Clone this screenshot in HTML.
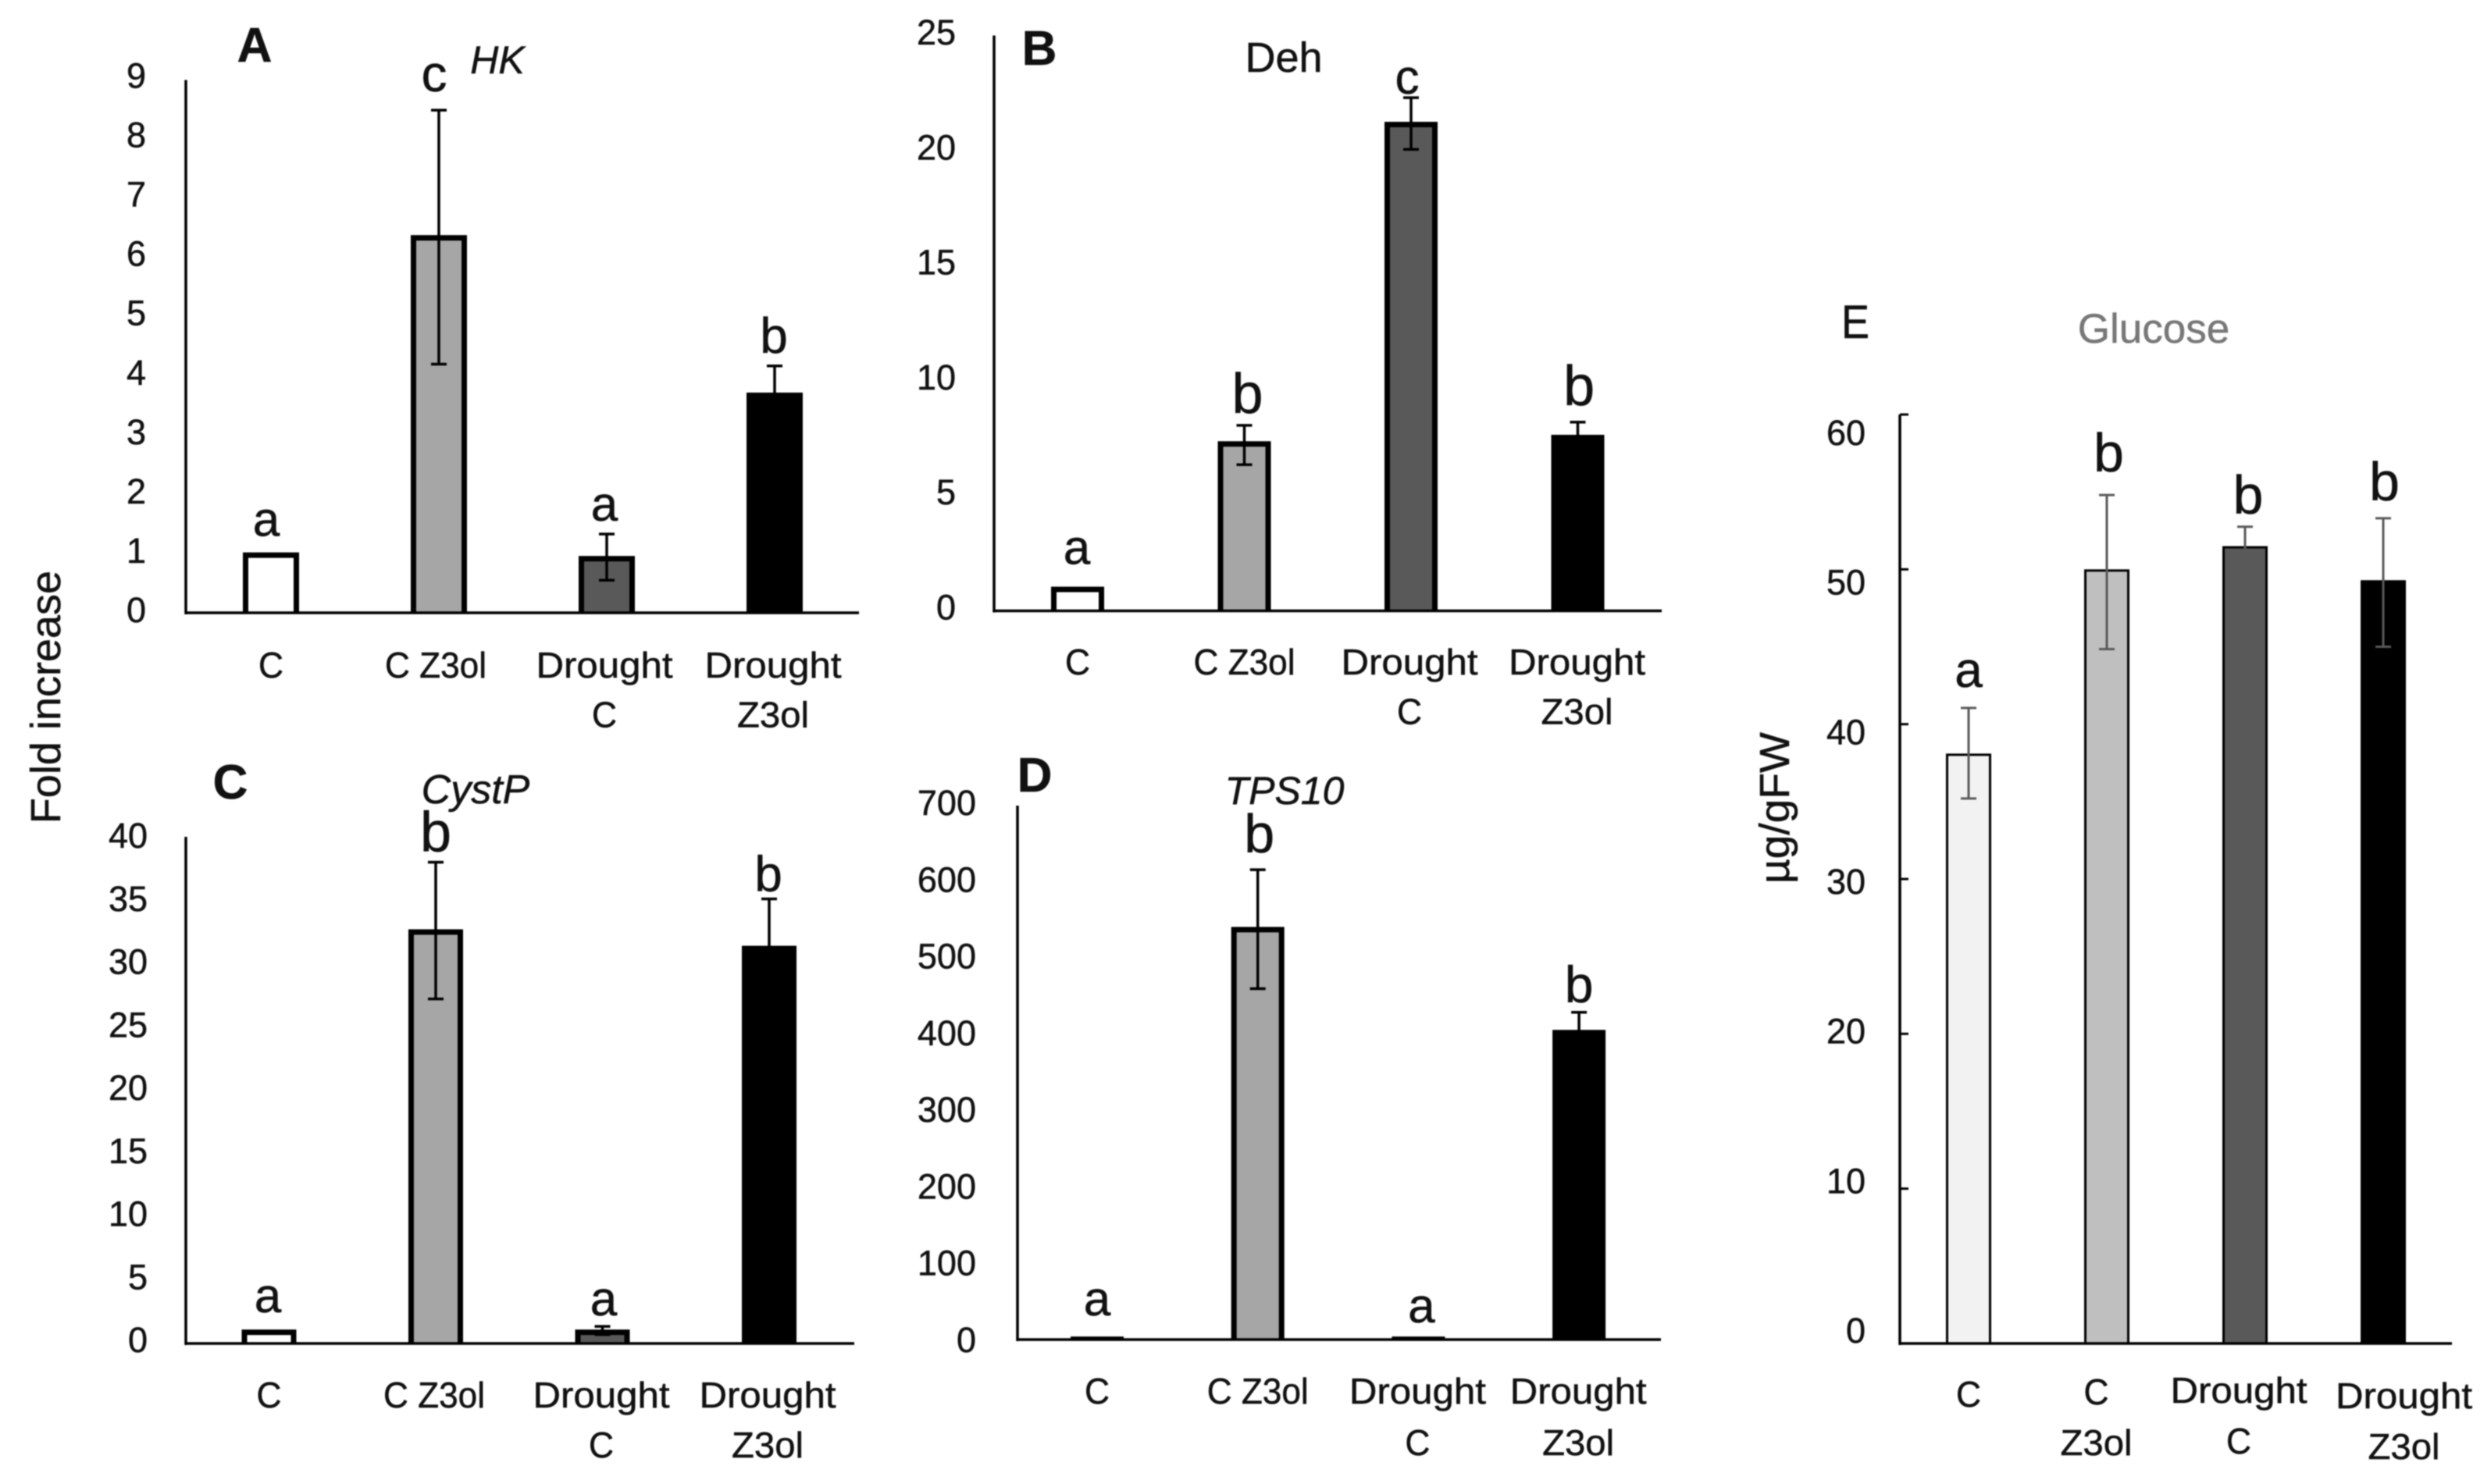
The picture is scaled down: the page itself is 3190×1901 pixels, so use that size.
<!DOCTYPE html>
<html lang="en">
<head>
<meta charset="utf-8">
<title>Fold increase and glucose bar charts</title>
<style>
  html, body { margin: 0; padding: 0; background: #fff; }
  svg { display: block; filter: blur(0.7px); }
  text { font-family: "Liberation Sans", sans-serif; fill: #111; stroke: #111; stroke-width: 0.5px; }
</style>
</head>
<body>
<svg id="figure" xmlns="http://www.w3.org/2000/svg" width="3190" height="1901" viewBox="0 0 3190 1901">
  <rect x="0" y="0" width="3190" height="1901" fill="#fff"/>

  <text x="77" y="893" font-size="54" text-anchor="middle" transform="rotate(-90 77 893)">Fold increase</text>
  <text x="2291" y="1035" font-size="54" text-anchor="middle" textLength="194" lengthAdjust="spacingAndGlyphs" transform="rotate(-90 2291 1035)">µg/gFW</text>

  <text x="326" y="79" font-size="62" font-weight="bold" text-anchor="middle">A</text>
  <text x="1331" y="83" font-size="62" font-weight="bold" text-anchor="middle">B</text>
  <text x="295" y="1023" font-size="62" font-weight="bold" text-anchor="middle">C</text>
  <text x="1325" y="1014" font-size="62" font-weight="bold" text-anchor="middle">D</text>
  <text x="2376" y="433" font-size="60" text-anchor="middle" textLength="36" lengthAdjust="spacingAndGlyphs">E</text>

  <text x="637" y="94" font-size="50" font-style="italic" text-anchor="middle">HK</text>
  <text x="1644" y="92" font-size="54" text-anchor="middle">Deh</text>
  <text x="609" y="1029" font-size="52" font-style="italic" text-anchor="middle">CystP</text>
  <text x="1645" y="1030" font-size="50" font-style="italic" text-anchor="middle">TPS10</text>
  <text x="2758" y="439" font-size="53" text-anchor="middle" style="fill:#777;stroke:#777">Glucose</text>

  <g id="panel-a"></g>
  <g id="panel-b"></g>
  <g id="panel-c"></g>
  <g id="panel-d"></g>
  <g id="panel-e"></g>
</svg>

<script>
// ---- data ----
const categories = ["C", "C Z3ol", "Drought\nC", "Drought\nZ3ol"];
const categoriesE = ["C", "C\nZ3ol", "Drought\nC", "Drought\nZ3ol"];

const ticksA = [0, 1, 2, 3, 4, 5, 6, 7, 8, 9];
const valuesA = [1.02, 6.38, 0.96, 3.72];
const errHighA = [null, 8.49, 1.33, 4.17];
const errLowA = [null, 4.2, 0.55, 3.28];
const lettersA = ["a", "c", "a", "b"];

const ticksB = [0, 5, 10, 15, 20, 25];
const valuesB = [1.05, 7.37, 21.25, 7.65];
const errHighB = [null, 8.06, 22.3, 8.2];
const errLowB = [null, 6.35, 20.05, 7.2];
const lettersB = ["a", "b", "c", "b"];

const ticksC = [0, 5, 10, 15, 20, 25, 30, 35, 40];
const valuesC = [1.1, 32.7, 1.1, 31.4];
const errHighC = [null, 38.0, 1.35, 35.1];
const errLowC = [null, 27.2, 0.7, 27.7];
const lettersC = ["a", "b", "a", "b"];

const ticksD = [0, 100, 200, 300, 400, 500, 600, 700];
const valuesD = [4, 541, 4, 406];
const errHighD = [null, 616, null, 429];
const errLowD = [null, 460, null, 381];
const lettersD = ["a", "b", "a", "b"];

const ticksE = [0, 10, 20, 30, 40, 50, 60];
const valuesE = [38.1, 50.0, 51.5, 49.3];
const errHighE = [41.05, 54.8, 52.75, 53.3];
const errLowE = [35.2, 44.85, 50.0, 45.0];
const lettersE = ["a", "b", "b", "b"];

// ---- drawing ----
const SVG_NS = "http://www.w3.org/2000/svg";
const labelWidths = { "Drought": 175, "C Z3ol": 130, "Z3ol": 92, "C": 32 };

function make(parent, tag, attrs, content) {
  const el = document.createElementNS(SVG_NS, tag);
  for (const k in attrs) el.setAttribute(k, attrs[k]);
  if (content !== undefined) el.textContent = content;
  parent.appendChild(el);
  return el;
}

function drawPanel(id, d, cfg) {
  const g = document.getElementById(id);
  const maxTick = d.ticks[d.ticks.length - 1];
  const yScale = v => cfg.y0 - (v / maxTick) * (cfg.y0 - cfg.yTop);
  const xScale = i => cfg.x0 + cfg.step * i;
  const tickCenter = v => cfg.tickAt0 + (v / maxTick) * (cfg.tickAtMax - cfg.tickAt0);

  // bars
  d.values.forEach((v, i) => {
    const cx = xScale(i);
    const top = yScale(v);
    const outer = make(g, "rect", { x: cx - cfg.barW / 2, y: top, width: cfg.barW, height: Math.max(0, cfg.y0 - top), fill: "#000" });
    
    
    const h = cfg.y0 - top - cfg.stroke;
    if (h > 0 && cfg.fills[i] !== "#000") {
      const inner = make(g, "rect", { x: cx - cfg.barW / 2 + cfg.stroke, y: top + cfg.stroke, width: cfg.barW - 2 * cfg.stroke, height: h, fill: cfg.fills[i] });
      
      
    }
  });

  // error bars
  d.errHigh.forEach((hi, i) => {
    if (hi === null) return;
    const cx = xScale(i);
    const yHi = yScale(hi);
    const yLo = yScale(d.errLow[i]);
    const stem = make(g, "line", { x1: cx, x2: cx, y1: yHi, y2: yLo, stroke: cfg.errColor, "stroke-width": cfg.errW });
    
    
    const capHi = make(g, "line", { x1: cx - 10, x2: cx + 10, y1: yHi, y2: yHi, stroke: cfg.errColor, "stroke-width": cfg.errW });
    
    
    const capLo = make(g, "line", { x1: cx - 10, x2: cx + 10, y1: yLo, y2: yLo, stroke: cfg.errColor, "stroke-width": cfg.errW });
    
    
  });

  // axes
  const yAxis = make(g, "line", { x1: cfg.axisX, x2: cfg.axisX, y1: cfg.yTop, y2: cfg.y0 + 2, stroke: "#000", "stroke-width": 3.5 });
  
  
  const xAxis = make(g, "line", { x1: cfg.axisX, x2: cfg.xEnd, y1: cfg.y0, y2: cfg.y0, stroke: "#000", "stroke-width": 3.5 });
  
  

  // tick labels and optional tick marks
  d.ticks.forEach(t => {
    const label = make(g, "text", { x: cfg.tickRight, y: tickCenter(t) + 16, "font-size": 45, "text-anchor": "end" }, String(t));
    
    
    if (cfg.tickMarks) {
      const mark = make(g, "line", { x1: cfg.axisX, x2: cfg.axisX + 11, y1: yScale(t), y2: yScale(t), stroke: "#000", "stroke-width": 3 });
      
      
    }
  });

  // category labels
  d.cats.forEach((cat, i) => {
    cat.split("\n").forEach((line, n) => {
      const lbl = make(g, "text", {
        x: xScale(i) + cfg.catDx[i],
        y: cfg.catBase + cfg.catDy[i] + n * cfg.catLine,
        "font-size": 46,
        "text-anchor": "middle",
        textLength: labelWidths[line],
        lengthAdjust: "spacingAndGlyphs"
      }, line);
      
      
    });
  });

  // significance letters
  d.letters.forEach((ch, i) => {
    const anchor = d.errHigh[i] === null ? d.values[i] : d.errHigh[i];
    const letter = make(g, "text", {
      x: xScale(i) + cfg.letterDx[i],
      y: yScale(anchor) - cfg.letterGap[i],
      "font-size": cfg.letterSize[i],
      "text-anchor": "middle"
    }, ch);
    
    
  });
}

const stdFills = ["#fff", "#a6a6a6", "#595959", "#000"];

drawPanel("panel-a",
  { cats: categories, ticks: ticksA, values: valuesA, errHigh: errHighA, errLow: errLowA, letters: lettersA },
  { axisX: 238, xEnd: 1100, yTop: 102.5, y0: 785, x0: 347, step: 215, barW: 72, stroke: 7, fills: stdFills,
    errColor: "#000", errW: 3.5, tickRight: 187, tickAt0: 781, tickAtMax: 96.5, tickMarks: false,
    catBase: 868, catLine: 63.5, catDx: [0, -4, -3, -2], catDy: [0, 0, 0, 0],
    letterDx: [-6, -6, -3, -1], letterGap: [21, 24, 17, 17], letterSize: [62, 66, 62, 64] });

drawPanel("panel-b",
  { cats: categories, ticks: ticksB, values: valuesB, errHigh: errHighB, errLow: errLowB, letters: lettersB },
  { axisX: 1273, xEnd: 2128, yTop: 45.5, y0: 782.5, x0: 1380, step: 213.5, barW: 68, stroke: 7, fills: stdFills,
    errColor: "#000", errW: 3.5, tickRight: 1224, tickAt0: 777.5, tickAtMax: 41, tickMarks: false,
    catBase: 864, catLine: 63.5, catDx: [0, 0, -2, -1], catDy: [0, 0, 0, 0],
    letterDx: [-1, 4, -5, 1.6], letterGap: [29, 16, 5, 22], letterSize: [62, 72, 62, 72] });

drawPanel("panel-c",
  { cats: categories, ticks: ticksC, values: valuesC, errHigh: errHighC, errLow: errLowC, letters: lettersC },
  { axisX: 238, xEnd: 1094, yTop: 1072, y0: 1721, x0: 344.5, step: 213.5, barW: 70, stroke: 7, fills: stdFills,
    errColor: "#000", errW: 3.5, tickRight: 189, tickAt0: 1716, tickAtMax: 1070, tickMarks: false,
    catBase: 1803, catLine: 64, catDx: [0, -2, -1.5, -2], catDy: [0, 0, 0, 0],
    letterDx: [-1.5, 0, 1.5, -1], letterGap: [22, 14, 14, 10], letterSize: [62, 72, 62, 64] });

drawPanel("panel-d",
  { cats: categories, ticks: ticksD, values: valuesD, errHigh: errHighD, errLow: errLowD, letters: lettersD },
  { axisX: 1303, xEnd: 2127, yTop: 1032, y0: 1716, x0: 1405, step: 205.7, barW: 68, stroke: 7, fills: stdFills,
    errColor: "#000", errW: 3.5, tickRight: 1250, tickAt0: 1716, tickAtMax: 1028, tickMarks: false,
    catBase: 1798, catLine: 66, catDx: [0, 0, -1, -1], catDy: [0, 0, 0, 0],
    letterDx: [0, 2, 4, 0], letterGap: [27, 22, 18, 13], letterSize: [62, 70, 62, 66] });

drawPanel("panel-e",
  { cats: categoriesE, ticks: ticksE, values: valuesE, errHigh: errHighE, errLow: errLowE, letters: lettersE },
  { axisX: 2433, xEnd: 3140, yTop: 531, y0: 1721, x0: 2521, step: 177, barW: 58, stroke: 3, fills: ["#f2f2f2", "#bfbfbf", "#595959", "#000"],
    errColor: "#595959", errW: 3, tickRight: 2389, tickAt0: 1704, tickAtMax: 554, tickMarks: true,
    catBase: 1799, catLine: 65, catDx: [0, -13.5, -8, 26.5], catDy: [3, 0, -2, 5],
    letterDx: [0, 2.5, 4, 1.5], letterGap: [27, 30, 17, 23], letterSize: [64, 70, 70, 70] });
</script>
</body>
</html>
